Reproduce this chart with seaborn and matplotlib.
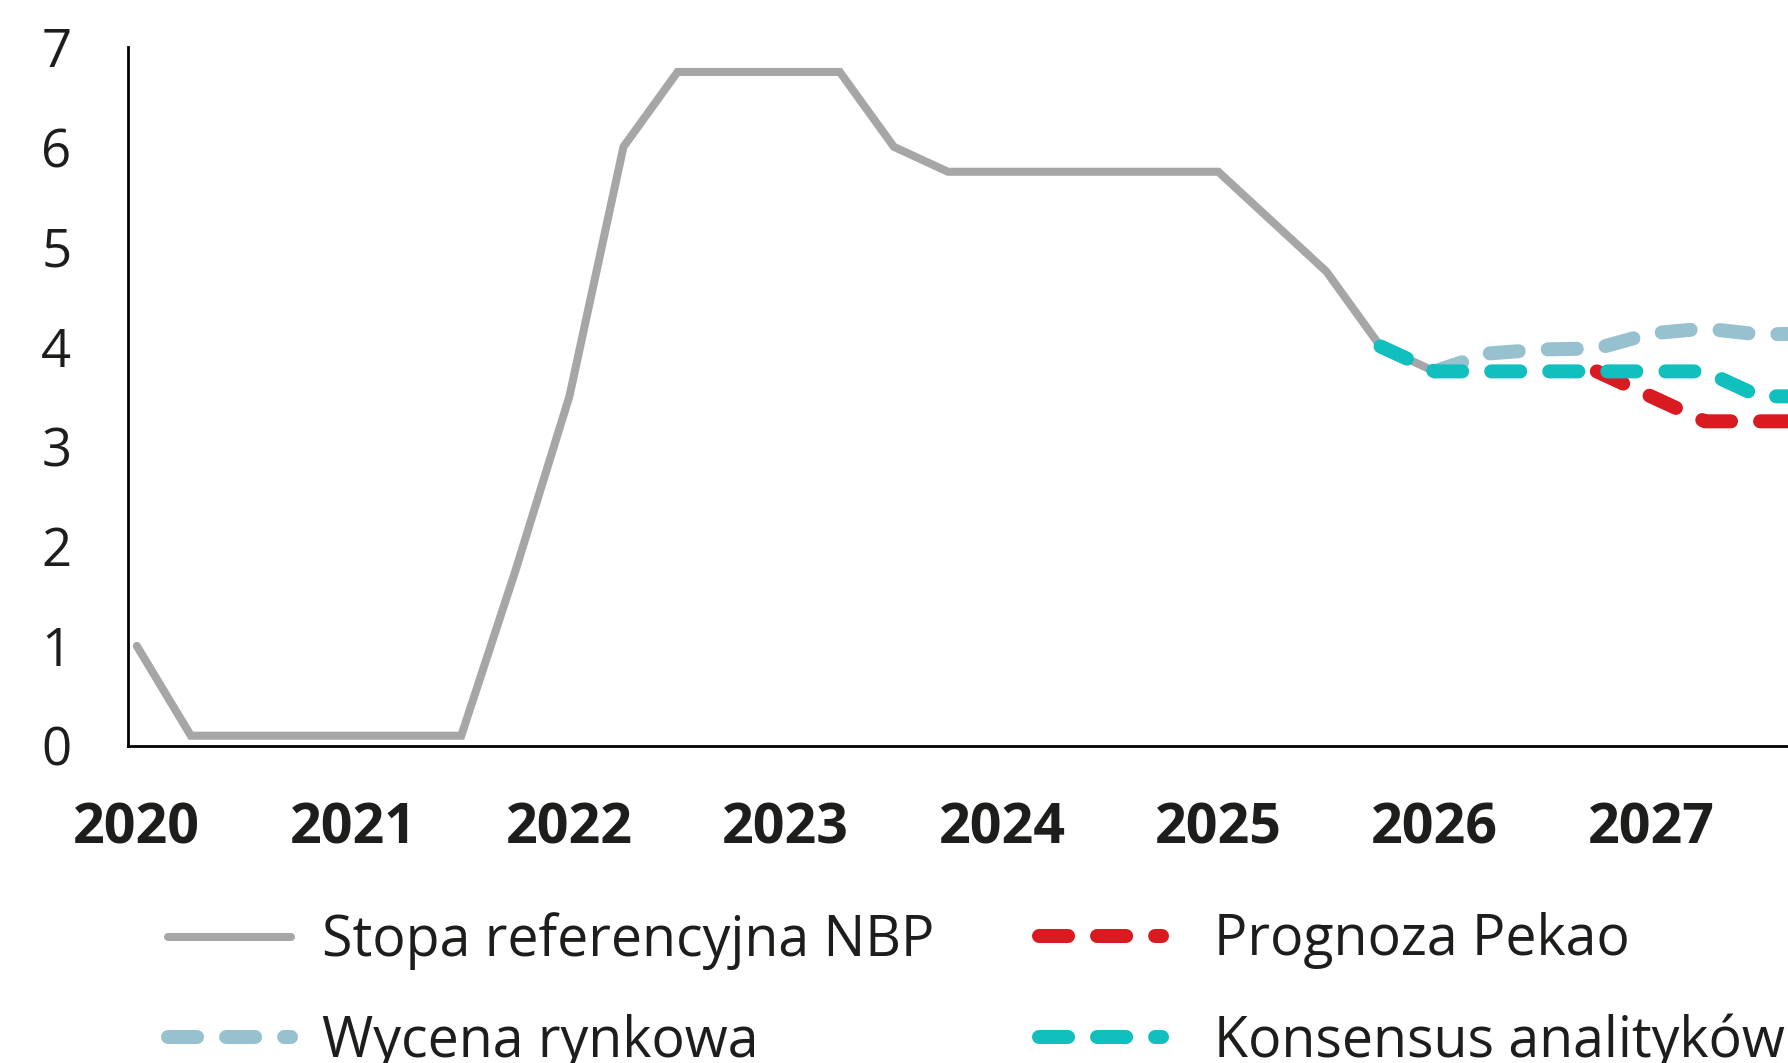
import matplotlib
matplotlib.use("Agg")
import matplotlib.pyplot as plt
import seaborn as sns
import pandas as pd
import numpy as np

# ---------------- data (quarter-end values, %) ----------------
nbp_quarters = ["2020Q1", "2020Q2", "2020Q3", "2020Q4", "2021Q1", "2021Q2", "2021Q3",
                "2021Q4", "2022Q1", "2022Q2", "2022Q3", "2022Q4", "2023Q1", "2023Q2",
                "2023Q3", "2023Q4", "2024Q1", "2024Q2", "2024Q3", "2024Q4", "2025Q1",
                "2025Q2", "2025Q3", "2025Q4", "2026Q1"]
nbp_rate = [1.0, 0.1, 0.1, 0.1, 0.1, 0.1, 0.1,
            1.75, 3.5, 6.0, 6.75, 6.75, 6.75, 6.75,
            6.0, 5.75, 5.75, 5.75, 5.75, 5.75, 5.75,
            5.25, 4.75, 4.0, 3.75]

market_quarters = ["2026Q1", "2026Q2", "2026Q3", "2026Q4", "2027Q1", "2027Q2", "2027Q3", "2027Q4"]
market_rate = [3.75, 3.93, 3.97, 3.98, 4.13, 4.18, 4.12, 4.13]

pekao_quarters = ["2026Q4", "2027Q1", "2027Q2", "2027Q3", "2027Q4"]
pekao_rate = [3.75, 3.5, 3.25, 3.25, 3.25]

consensus_quarters = ["2025Q4", "2026Q1", "2026Q2", "2026Q3", "2026Q4", "2027Q1",
                      "2027Q2", "2027Q3", "2027Q4"]
consensus_rate = [4.0, 3.75, 3.75, 3.75, 3.75, 3.75, 3.75, 3.5, 3.5]

year_ticks = [2020, 2021, 2022, 2023, 2024, 2025, 2026, 2027]
y_ticks = [0, 1, 2, 3, 4, 5, 6, 7]

labels = {
    "nbp": "Stopa referencyjna NBP",
    "market": "Wycena rynkowa",
    "pekao": "Prognoza Pekao",
    "consensus": "Konsensus analityków",
}

def to_year(q):
    return int(q[:4]) + (int(q[-1]) - 1) / 4.0

def frame(quarters, values):
    return pd.DataFrame({"t": [to_year(q) for q in quarters], "v": values})

# ---------------- style ----------------
sns.set_theme(style="white")
TXT = "#1d1d1b"
plt.rcParams["font.family"] = ["Open Sans", "DejaVu Sans"]
plt.rcParams["text.color"] = TXT
plt.rcParams["xtick.color"] = TXT
plt.rcParams["ytick.color"] = TXT

GRAY = "#a6a6a6"
RED = "#d91a21"
TEAL = "#12bfbf"
LBLUE = "#98c1cf"

DPI = 100
fig = plt.figure(figsize=(17.88, 10.63), dpi=DPI)
ax = fig.add_axes([128.3 / 1788, (1063 - 745.7) / 1063, 1 - 128.3 / 1788,
                   (745.7 - 47.0) / 1063])

dash_lw = 10.1
dash = (0, (2.07, 2.07))

sns.lineplot(data=frame(nbp_quarters, nbp_rate), x="t", y="v", ax=ax, color=GRAY,
             linewidth=5.8, solid_capstyle="round", solid_joinstyle="miter",
             label=labels["nbp"], legend=False, zorder=2)
sns.lineplot(data=frame(pekao_quarters, pekao_rate), x="t", y="v", ax=ax, color=RED,
             linewidth=dash_lw, linestyle=dash, dash_capstyle="round",
             label=labels["pekao"], legend=False, zorder=3)
sns.lineplot(data=frame(market_quarters, market_rate), x="t", y="v", ax=ax, color=LBLUE,
             linewidth=dash_lw, linestyle=dash, dash_capstyle="round",
             label=labels["market"], legend=False, zorder=4)
sns.lineplot(data=frame(consensus_quarters, consensus_rate), x="t", y="v", ax=ax, color=TEAL,
             linewidth=dash_lw, linestyle=dash, dash_capstyle="round",
             label=labels["consensus"], legend=False, zorder=5)

if ax.get_legend() is not None:
    ax.get_legend().remove()

ax.set_xlim(2020 - 8.5 / 216.3, 2020 + (1788 - 136.8) / 216.3)
ax.set_ylim(0, 7)
ax.set_xticks(year_ticks)
ax.set_xticklabels([str(y) for y in year_ticks], fontsize=40, fontweight="bold")
ax.set_yticks(y_ticks)
ax.set_yticklabels([str(y) for y in y_ticks], fontsize=38)
ax.tick_params(axis="x", length=0, pad=40.5)
ax.tick_params(axis="y", length=0, pad=41)
ax.set_xlabel("")
ax.set_ylabel("")
ax.grid(False)

for s in ["top", "right"]:
    ax.spines[s].set_visible(False)
for s in ["left", "bottom"]:
    ax.spines[s].set_color("black")
    ax.spines[s].set_linewidth(2.0)

# ---------------- legend ----------------
h, l = ax.get_legend_handles_labels()
hmap = dict(zip(l, h))
fs = 40
fs_px = fs * DPI / 72
common = dict(frameon=False, fontsize=fs, borderpad=0, borderaxespad=0,
              handlelength=123 / fs_px, labelspacing=0.79, loc="center left")
leg1 = fig.legend([hmap[labels["nbp"]], hmap[labels["market"]]],
                  [labels["nbp"], labels["market"]],
                  bbox_to_anchor=(168 / 1788, (1063 - 991.5) / 1063),
                  handletextpad=31 / fs_px, **common)
leg2 = fig.legend([hmap[labels["pekao"]], hmap[labels["consensus"]]],
                  [labels["pekao"], labels["consensus"]],
                  bbox_to_anchor=(1038.7 / 1788, (1063 - 991.5) / 1063),
                  handletextpad=52 / fs_px, **common)
for lg in (leg1, leg2):
    for t in lg.get_texts():
        t.set_color(TXT)

fig.savefig("out.png", dpi=DPI)
